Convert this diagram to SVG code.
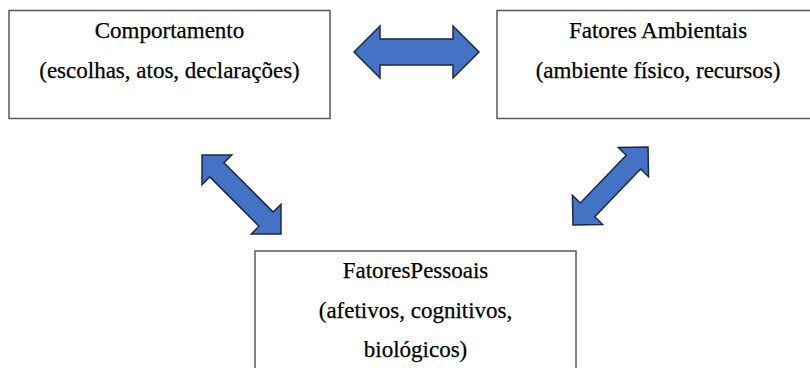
<svg xmlns="http://www.w3.org/2000/svg" width="810" height="368" viewBox="0 0 810 368">
<style>
.box{fill:#fff;stroke:#5a5a5a;stroke-width:1.5}
.t{font-family:'Liberation Serif','Times New Roman',serif;font-size:23px;fill:#000;stroke:#000;stroke-width:0.25;text-anchor:middle}
.arr{fill:#4472C4;stroke:#1c2a44;stroke-width:1.5;stroke-linejoin:miter}
</style>
<rect width="810" height="368" fill="#fff"/>
<g id="comportamento">
<rect class="box" x="9" y="10.5" width="321" height="108"/>
<text class="t" x="169.5" y="38">Comportamento</text>
<text class="t" x="169.5" y="78">(escolhas, atos, declarações)</text>
</g>
<g id="fatores-ambientais">
<rect class="box" x="497" y="10.5" width="330" height="108"/>
<text class="t" x="658" y="38">Fatores Ambientais</text>
<text class="t" x="658" y="78">(ambiente físico, recursos)</text>
</g>
<g id="fatores-pessoais">
<rect class="box" x="255" y="251" width="321" height="130"/>
<text class="t" x="415.5" y="278">FatoresPessoais</text>
<text class="t" x="415.5" y="318">(afetivos, cognitivos,</text>
<text class="t" x="415.5" y="357">biológicos)</text>
</g>
<g id="connectors">
<polygon class="arr" points="354,52 380,26 380,39 453,39 453,26 479,52 453,78 453,65 380,65 380,78"/>
<polygon class="arr" transform="translate(241.5,194.5) rotate(45)" points="-55.85,0 -34.85,-21 -34.85,-10 34.85,-10 34.85,-21 55.85,0 34.85,21 34.85,10 -34.85,10 -34.85,21"/>
<polygon class="arr" transform="translate(610.5,186) rotate(-46.1)" points="-54.1,0 -33.1,-21 -33.1,-10 33.1,-10 33.1,-21 54.1,0 33.1,21 33.1,10 -33.1,10 -33.1,21"/>
</g>
</svg>
